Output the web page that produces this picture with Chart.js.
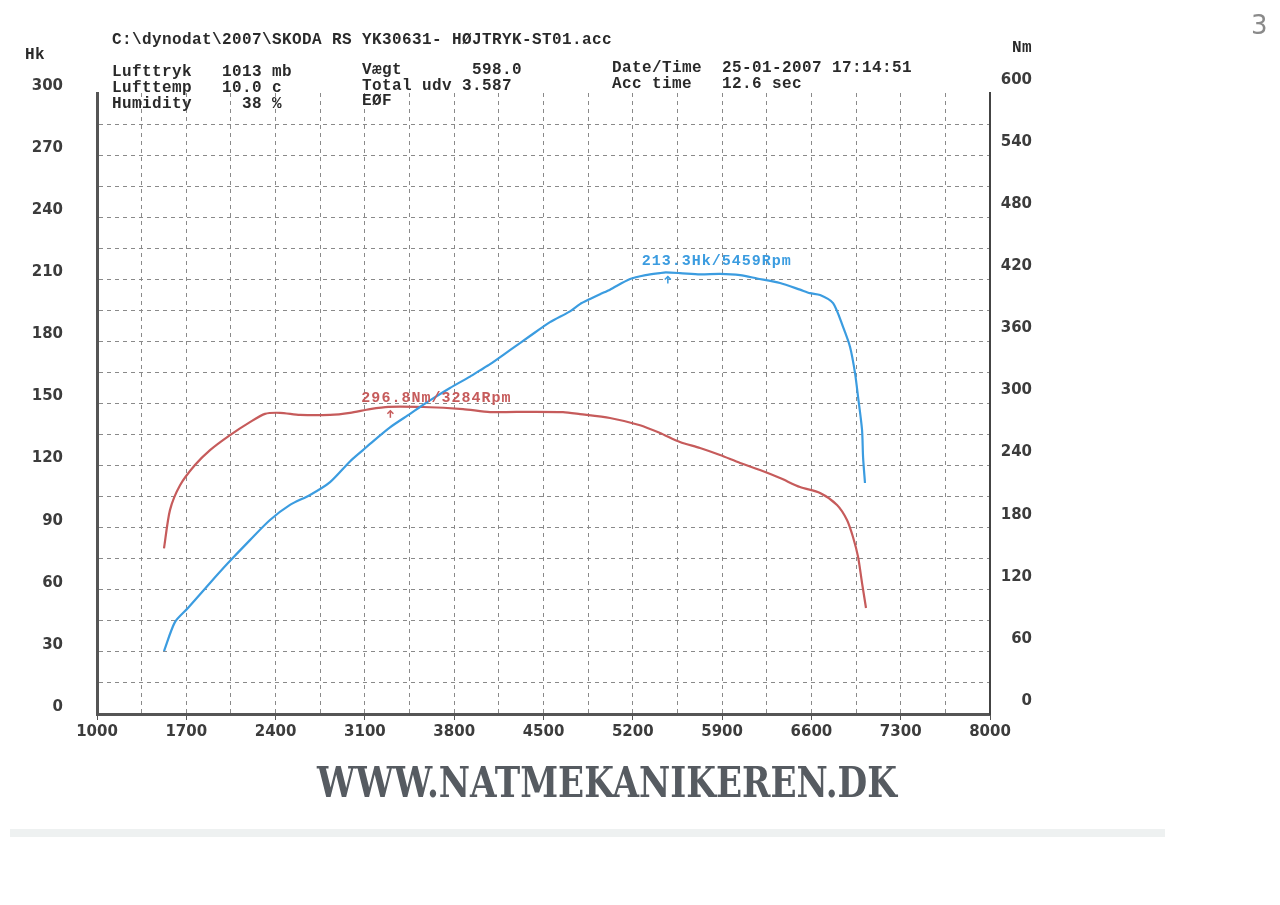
<!DOCTYPE html>
<html>
<head>
<meta charset="utf-8">
<script src="https://cdn.jsdelivr.net/npm/chart.js@4.4.0/dist/chart.umd.min.js"></script>
<style>
  body { margin: 0; background: #fff; }
  #page { position: relative; width: 1280px; height: 905px; overflow: hidden; background: #fff; }
  #dyno { position: absolute; left: 0; top: 0; }
  .t { position: absolute; font: bold 16px 'Liberation Mono', monospace; letter-spacing: 0.4px; color: #2a2a2a; white-space: pre; line-height: 16px; }
  #site { position: absolute; left: 317px; top: 761px; font: bold 43px 'DejaVu Serif', serif; line-height: 43px; color: #565b61; white-space: pre; transform-origin: 0 0; }
  #band { position: absolute; left: 10px; top: 829px; width: 1155px; height: 8px; background: #eef1f1; }
  #pg { position: absolute; left: 1251px; top: 10px; font: 26px 'DejaVu Sans', sans-serif; color: #8a8a8a; }
</style>
</head>
<body>
<div id="page">
  <canvas id="dyno" width="1280" height="905"></canvas>
  <div class="t" style="left:25px;top:47px">Hk</div>
  <div class="t" style="left:1012px;top:40px">Nm</div>
  <div class="t" style="left:112px;top:32px">C:\dynodat\2007\SKODA RS YK30631- HØJTRYK-ST01.acc</div>
  <div class="t" style="left:112px;top:64px">Lufttryk   1013 mb</div>
  <div class="t" style="left:112px;top:80px">Lufttemp   10.0 c</div>
  <div class="t" style="left:112px;top:96px">Humidity     38 %</div>
  <div class="t" style="left:362px;top:62px">Vægt       598.0</div>
  <div class="t" style="left:362px;top:78px">Total udv 3.587</div>
  <div class="t" style="left:362px;top:93px">EØF</div>
  <div class="t" style="left:612px;top:60px">Date/Time  25-01-2007 17:14:51</div>
  <div class="t" style="left:612px;top:76px">Acc time   12.6 sec</div>
  <div id="pg">3</div>
  <div id="site">WWW.NATMEKANIKEREN.DK</div>
  <div id="band"></div>
</div>
<script>
// power curve (Hk)
const powerRpm = [1525, 1611, 1713, 1886, 2027, 2199, 2356, 2513, 2670, 2827, 2983, 3085, 3140, 3297, 3454, 3532, 3610, 3767, 3924, 4002, 4081, 4237, 4394, 4551, 4708, 4786, 4865, 4943, 5021, 5178, 5300, 5413, 5459, 5570, 5727, 5884, 6041, 6174, 6354, 6511, 6589, 6668, 6770, 6848, 6903, 6942, 6966, 6997, 7005, 7020];
const powerHk  = [30.4, 44.4, 51.2, 63.3, 72.9, 84.0, 93.7, 101.0, 105.8, 112.0, 122.0, 127.5, 130.5, 138.5, 145.0, 148.3, 151.5, 157.5, 163.0, 166.0, 169.0, 175.8, 182.6, 189.3, 194.5, 198.0, 200.5, 202.8, 205.0, 210.1, 212.0, 213.0, 213.3, 213.0, 212.4, 212.6, 212.0, 210.4, 208.2, 205.0, 203.3, 202.4, 198.5, 187.0, 177.3, 164.7, 153.1, 137.2, 124.1, 111.6];

// torque curve (Nm)
const torqueRpm = [1525, 1572, 1651, 1768, 1886, 2043, 2199, 2317, 2434, 2591, 2827, 2983, 3140, 3284, 3556, 3869, 4081, 4400, 4653, 4786, 5021, 5257, 5413, 5570, 5727, 5884, 6041, 6197, 6354, 6511, 6668, 6801, 6879, 6926, 6966, 6997, 7028];
const torqueNm  = [160, 197, 221, 240.5, 255, 269.5, 282, 290, 291, 289, 289, 291, 294.6, 296.8, 296.6, 294.6, 291.7, 292, 291.7, 289.8, 286, 279, 271.5, 262.8, 257, 250.2, 242.5, 235.7, 228, 219.3, 213.5, 201.9, 187.4, 171, 151.7, 126.5, 102.4];

// axis ticks
const rpmLabels = [1000, 1700, 2400, 3100, 3800, 4500, 5200, 5900, 6600, 7300, 8000];
const hkLabels = [0, 30, 60, 90, 120, 150, 180, 210, 240, 270, 300];
const nmLabels = [0, 60, 120, 180, 240, 300, 360, 420, 480, 540, 600];

// peak notes
const peakText = ['213.3Hk/5459Rpm', '296.8Nm/3284Rpm'];
const peakRpm = [5459, 3284];
const peakVal = [213.3, 296.8];

const blue = '#3b9ce0';
const red = '#c65b5b';
const tickFont = { family: "'DejaVu Sans', sans-serif", size: 15, weight: 'bold' };

// vertical grid every 350 rpm (half of label step)
const rpmGrid = [];
rpmLabels.forEach((v, i) => { rpmGrid.push(v); if (i < rpmLabels.length - 1) rpmGrid.push((v + rpmLabels[i + 1]) / 2); });

const peakNotes = {
  id: 'peakNotes',
  afterDatasetsDraw(chart) {
    const { ctx, scales } = chart;
    const axes = ['y', 'y1'];
    const colors = [blue, red];
    const offs = [[-24, -11], [-27, -9]];
    ctx.save();
    ctx.font = "bold 15px 'Liberation Mono', monospace";
    if ('letterSpacing' in ctx) ctx.letterSpacing = '1px';
    ctx.textBaseline = 'middle';
    peakText.forEach((txt, i) => {
      const x = scales.x.getPixelForValue(peakRpm[i]);
      const y = scales[axes[i]].getPixelForValue(peakVal[i]);
      ctx.fillStyle = colors[i];
      ctx.fillText(txt, x + offs[i][0], y + offs[i][1]);
      ctx.strokeStyle = colors[i];
      ctx.lineWidth = 1.5;
      ctx.beginPath(); ctx.moveTo(x + 2, y + 4); ctx.lineTo(x + 2, y + 11); ctx.stroke();
      ctx.beginPath(); ctx.moveTo(x - 1, y + 7); ctx.lineTo(x + 2, y + 4); ctx.lineTo(x + 5, y + 7); ctx.stroke();
    });
    ctx.restore();
  }
};

new Chart(document.getElementById('dyno'), {
  type: 'line',
  data: {
    datasets: [
      { label: 'Hk', data: powerRpm.map((r, i) => ({ x: r, y: powerHk[i] })), yAxisID: 'y',
        borderColor: blue, borderWidth: 2.2, pointRadius: 0, tension: 0.25, fill: false },
      { label: 'Nm', data: torqueRpm.map((r, i) => ({ x: r, y: torqueNm[i] })), yAxisID: 'y1',
        borderColor: red, borderWidth: 2.2, pointRadius: 0, tension: 0.25, fill: false }
    ]
  },
  options: {
    responsive: false, animation: false,
    layout: { padding: { left: 0, top: 93, right: 248, bottom: 0 } },
    plugins: { legend: { display: false }, tooltip: { enabled: false } },
    scales: {
      x: {
        type: 'linear', min: 1000, max: 8000,
        afterBuildTicks: s => { s.ticks = rpmGrid.map(v => ({ value: v })); },
        afterFit: s => { s.height = 191; },
        grid: {
          color: c => (c.tick && (c.tick.value === 1000 || c.tick.value === 8000)) ? 'rgba(0,0,0,0)' : '#8a8a8a',
          lineWidth: 1, drawTicks: true, tickLength: 6,
          tickColor: c => (c.tick && rpmLabels.includes(c.tick.value)) ? '#555' : 'rgba(0,0,0,0)',
          tickBorderDash: [], borderDash: [4, 4]
        },
        border: { display: true, color: '#555', width: 3, dash: [4, 4] },
        ticks: {
          autoSkip: false, maxRotation: 0, padding: 3, color: '#3c3c3c', font: tickFont,
          callback: v => rpmLabels.includes(v) ? String(v) : ''
        }
      },
      y: {
        position: 'left', min: 0, max: 300,
        afterBuildTicks: s => { s.ticks = hkLabels.flatMap((v, i) => i < hkLabels.length - 1 ? [{ value: v }, { value: v + 15 }] : [{ value: v }]); },
        afterFit: s => { s.width = 97; },
        grid: {
          color: c => (c.tick && (c.tick.value === 0 || c.tick.value === 300)) ? 'rgba(0,0,0,0)' : '#8a8a8a',
          lineWidth: 1, drawTicks: false, borderDash: [4, 4]
        },
        border: { display: true, color: '#555', width: 3, dash: [4, 4] },
        ticks: {
          autoSkip: false, padding: 34, labelOffset: -7, color: '#3c3c3c', font: tickFont,
          callback: v => hkLabels.includes(v) ? String(v) : ''
        }
      },
      y1: {
        position: 'right', min: 0, max: 600,
        afterBuildTicks: s => { s.ticks = nmLabels.map(v => ({ value: v })); },
        afterFit: s => { s.width = 42; },
        grid: { drawOnChartArea: false, drawTicks: false },
        border: { display: true, color: '#444', width: 2 },
        ticks: {
          autoSkip: false, crossAlign: 'far', padding: 10, labelOffset: -13, color: '#3c3c3c', font: tickFont,
          callback: v => String(v)
        }
      }
    }
  },
  plugins: [peakNotes]
});

// squeeze the site banner to its printed width
const site = document.getElementById('site');
site.style.transform = 'scaleX(' + (580 / site.getBoundingClientRect().width) + ')';
</script>
</body>
</html>
